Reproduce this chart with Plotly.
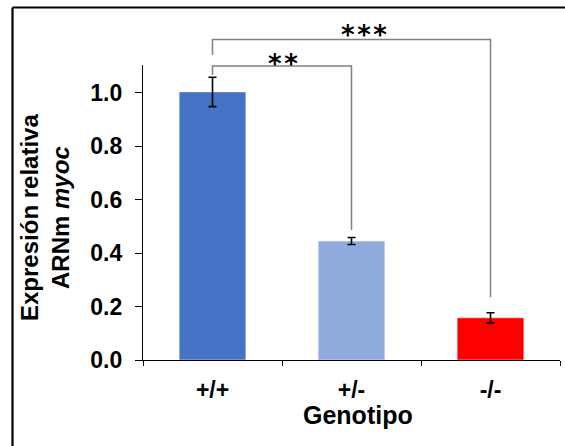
import plotly.graph_objects as go

# ---- data ----
categories = ["+/+", "+/-", "-/-"]
values = [1.003, 0.445, 0.158]
errors = [0.055, 0.013, 0.019]
bar_colors = ["#4472C4", "#8FAADC", "#FF0000"]
y_ticks = [0.0, 0.2, 0.4, 0.6, 0.8, 1.0]
y_tick_labels = ["0.0", "0.2", "0.4", "0.6", "0.8", "1.0"]
# significance brackets: (from index, to index, top level, left drop, right drop, label)
brackets = [
    (0, 1, 1.100, 1.066, 0.486, "**"),
    (0, 2, 1.199, 1.141, 0.236, "***"),
]
# label centres in pixels (x, y of glyph centre)
bracket_label_px = [(283, 58), (364, 29)]

Y_MAX = 1.1036
W, H = 565, 446
L, R, T, B = 143, 5, 65, 86
PW, PH = W - L - R, H - T - B

FONT = "Liberation Sans, Arial, sans-serif"


def xp(i):
    return (i + 0.5) / len(categories)


def yp(v):
    return v / Y_MAX


fig = go.Figure()
fig.add_trace(go.Bar(
    x=categories,
    y=values,
    width=0.48,
    marker=dict(color=bar_colors, line=dict(color="rgba(255,255,255,0.5)", width=1)),
    error_y=dict(type="data", array=errors, visible=True, color="black",
                 thickness=1.6, width=4),
))

shapes = []
annotations = []
gray = "#808080"
for (a, b, top, ldrop, rdrop, lab), (lx, ly) in zip(brackets, bracket_label_px):
    shapes.append(dict(type="path", xref="paper", yref="paper",
                       path=f"M {xp(a)},{yp(ldrop)} L {xp(a)},{yp(top)} L {xp(b)},{yp(top)} L {xp(b)},{yp(rdrop)}",
                       line=dict(color=gray, width=1.5)))
    spaced = "\u200a".join(lab)
    annotations.append(dict(text=f"<b>{spaced}</b>", xref="paper", yref="paper",
                            x=(lx - L) / PW, y=(H - B - (ly + 6)) / PH, showarrow=False,
                            xanchor="center", yanchor="middle",
                            font=dict(family="DejaVu Sans", size=26, color="black")))

# y title
annotations.append(dict(text="<b>Expresión relativa<br>ARNm <i>myoc</i></b>",
                        xref="paper", yref="paper", x=(45 - L) / PW, y=(H - B - 218) / PH,
                        showarrow=False, textangle=-90, xanchor="center", yanchor="middle",
                        font=dict(family=FONT, size=24, color="black")))
# x title
annotations.append(dict(text="<b>Genotipo</b>", xref="paper", yref="paper",
                        x=(358 - L) / PW, y=-(415 - (H - B)) / PH,
                        showarrow=False, xanchor="center", yanchor="middle",
                        font=dict(family=FONT, size=25, color="black")))

# outer frame (top and left edges visible)
bx = (12.5 - L) / PW
by = ((H - B) - 7.5) / PH
shapes.append(dict(type="line", xref="paper", yref="paper", x0=bx, x1=(W + 10 - L) / PW,
                   y0=by, y1=by, line=dict(color="black", width=2.2)))
shapes.append(dict(type="line", xref="paper", yref="paper", x0=bx, x1=bx,
                   y0=by, y1=-(B + 10) / PH, line=dict(color="black", width=2.2)))

fig.update_layout(
    width=W, height=H,
    margin=dict(l=L, r=R, t=T, b=B, pad=0),
    paper_bgcolor="white", plot_bgcolor="white",
    showlegend=False,
    shapes=shapes,
    annotations=annotations,
    font=dict(family=FONT, color="black"),
    xaxis=dict(type="category", range=[-0.5, 2.5], showline=True, linecolor="black",
               linewidth=1.3, ticks="outside", tickson="boundaries", ticklen=5,
               tickcolor="black", tickwidth=1.3, showgrid=False, zeroline=False,
               tickfont=dict(family=FONT, size=23, color="black"),
               ticklabelstandoff=9, tickprefix="<b>", ticksuffix="</b>"),
    yaxis=dict(range=[0, Y_MAX], showline=True, linecolor="black", linewidth=1.3,
               ticks="outside", ticklen=7, tickcolor="black", tickwidth=1,
               tickvals=y_ticks, ticktext=[f"<b>{t}</b>" for t in y_tick_labels],
               showgrid=False, zeroline=False,
               tickfont=dict(family=FONT, size=23, color="black"),
               ticklabelstandoff=8),
)

fig.write_html("out.html")
